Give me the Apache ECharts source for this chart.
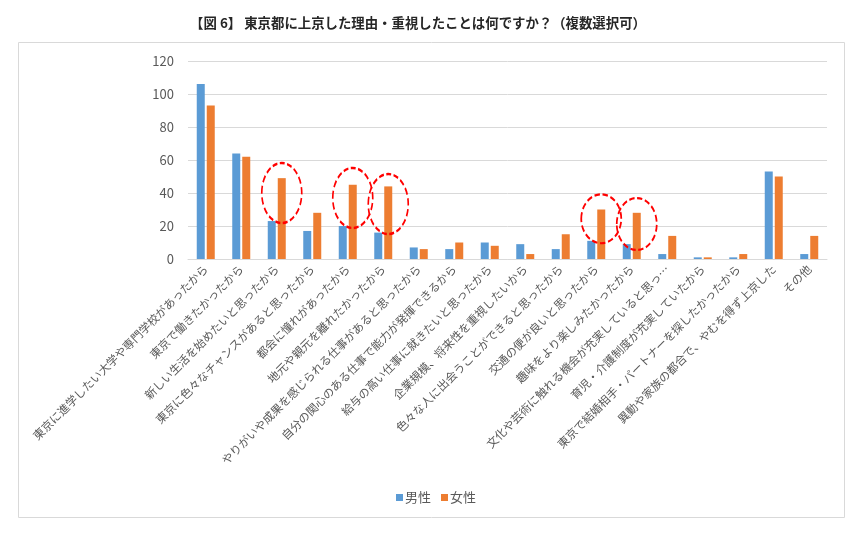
<!DOCTYPE html>
<head>
    <meta charset="utf-8">
    <title>東京都に上京した理由</title>
    <script src="https://cdn.jsdelivr.net/npm/echarts@6/dist/echarts.min.js"></script>
    <style>
        body { margin: 0; background: #fff; }
    </style>
</head>
<body>
    <div id="main" style="width:864px;height:535px"></div>
    <script type="text/javascript">
        var reasons = [
            '東京に進学したい大学や専門学校があったから',
            '東京で働きたかったから',
            '新しい生活を始めたいと思ったから',
            '東京に色々なチャンスがあると思ったから',
            '都会に憧れがあったから',
            '地元や親元を離れたかったから',
            'やりがいや成果を感じられる仕事があると思ったから',
            '自分の関心のある仕事で能力が発揮できるから',
            '給与の高い仕事に就きたいと思ったから',
            '企業規模、将来性を重視したいから',
            '色々な人に出会うことができると思ったから',
            '交通の便が良いと思ったから',
            '趣味をより楽しみたかったから',
            '文化や芸術に触れる機会が充実していると思っ…',
            '育児・介護制度が充実していたから',
            '東京で結婚相手・パートナーを探したかったから',
            '異動や家族の都合で、やむを得ず上京した',
            'その他'
        ];
        var male   = [106, 64, 23, 17, 20, 16, 7, 6, 10, 9, 6, 11, 9, 3, 1, 1, 53, 3];
        var female = [93, 62, 49, 28, 45, 44, 6, 10, 8, 3, 15, 30, 28, 14, 1, 3, 50, 14];

        // 赤い点線の丸（女性の棒に付ける）
        var circledIdx = [2, 4, 5, 11, 12];
        var circledY   = [40, 37, 33.3, 24.4, 21.2];
        var circledH   = [60, 60, 60, 49, 52];

        var ellipse = 'path://M0,50 A50,50 0 1,1 100,50 A50,50 0 1,1 0,50 Z';
        var marks = [];
        for (var i = 0; i < circledIdx.length; i++) {
            marks.push({ coord: [circledIdx[i], circledY[i]], symbolSize: [40, circledH[i]] });
        }

        var myChart = echarts.init(document.getElementById('main'));
        var font = '"Noto Sans CJK JP", "Noto Sans", sans-serif';
        var option = {
            animation: false,
            textStyle: { fontFamily: font },
            title: {
                text: '【図 6】 東京都に上京した理由・重視したことは何ですか？（複数選択可）',
                left: 413,
                top: 11,
                textAlign: 'center',
                textStyle: { fontSize: 13.4, fontWeight: 'bold', color: '#262626', fontFamily: font }
            },
            graphic: [{
                type: 'rect',
                shape: { x: 18.5, y: 42.5, width: 826, height: 475 },
                style: { fill: 'none', stroke: '#d9d9d9', lineWidth: 1 },
                silent: true
            }],
            legend: {
                data: ['男性', '女性'],
                left: 391,
                top: 486,
                itemWidth: 7,
                itemHeight: 7,
                itemGap: 10,
                icon: 'rect',
                textStyle: { fontSize: 13, color: '#595959', padding: [0, 0, 0, -3] }
            },
            grid: {
                left: 188,
                right: 37,
                top: 61,
                bottom: 276
            },
            xAxis: {
                type: 'category',
                data: reasons,
                axisLine: { lineStyle: { color: '#d9d9d9' } },
                axisTick: { show: false },
                axisLabel: {
                    interval: 0,
                    rotate: 45,
                    margin: 8,
                    fontSize: 11.5,
                    color: '#595959'
                }
            },
            yAxis: {
                type: 'value',
                min: 0,
                max: 120,
                interval: 20,
                axisLine: { show: false },
                axisTick: { show: false },
                axisLabel: { fontSize: 13, color: '#595959', margin: 14 },
                splitLine: { lineStyle: { color: '#d9d9d9' } }
            },
            series: [
                {
                    name: '男性',
                    type: 'bar',
                    data: male,
                    barWidth: 8,
                    barGap: '25%',
                    itemStyle: { color: '#5b9bd5' }
                },
                {
                    name: '女性',
                    type: 'bar',
                    data: female,
                    barWidth: 8,
                    itemStyle: { color: '#ed7d31' },
                    markPoint: {
                        symbol: ellipse,
                        label: { show: false },
                        itemStyle: {
                            color: 'none',
                            borderColor: '#ff0000',
                            borderWidth: 2,
                            borderType: [6, 3]
                        },
                        data: marks
                    }
                }
            ]
        };
        myChart.setOption(option);
    </script>
</body>
